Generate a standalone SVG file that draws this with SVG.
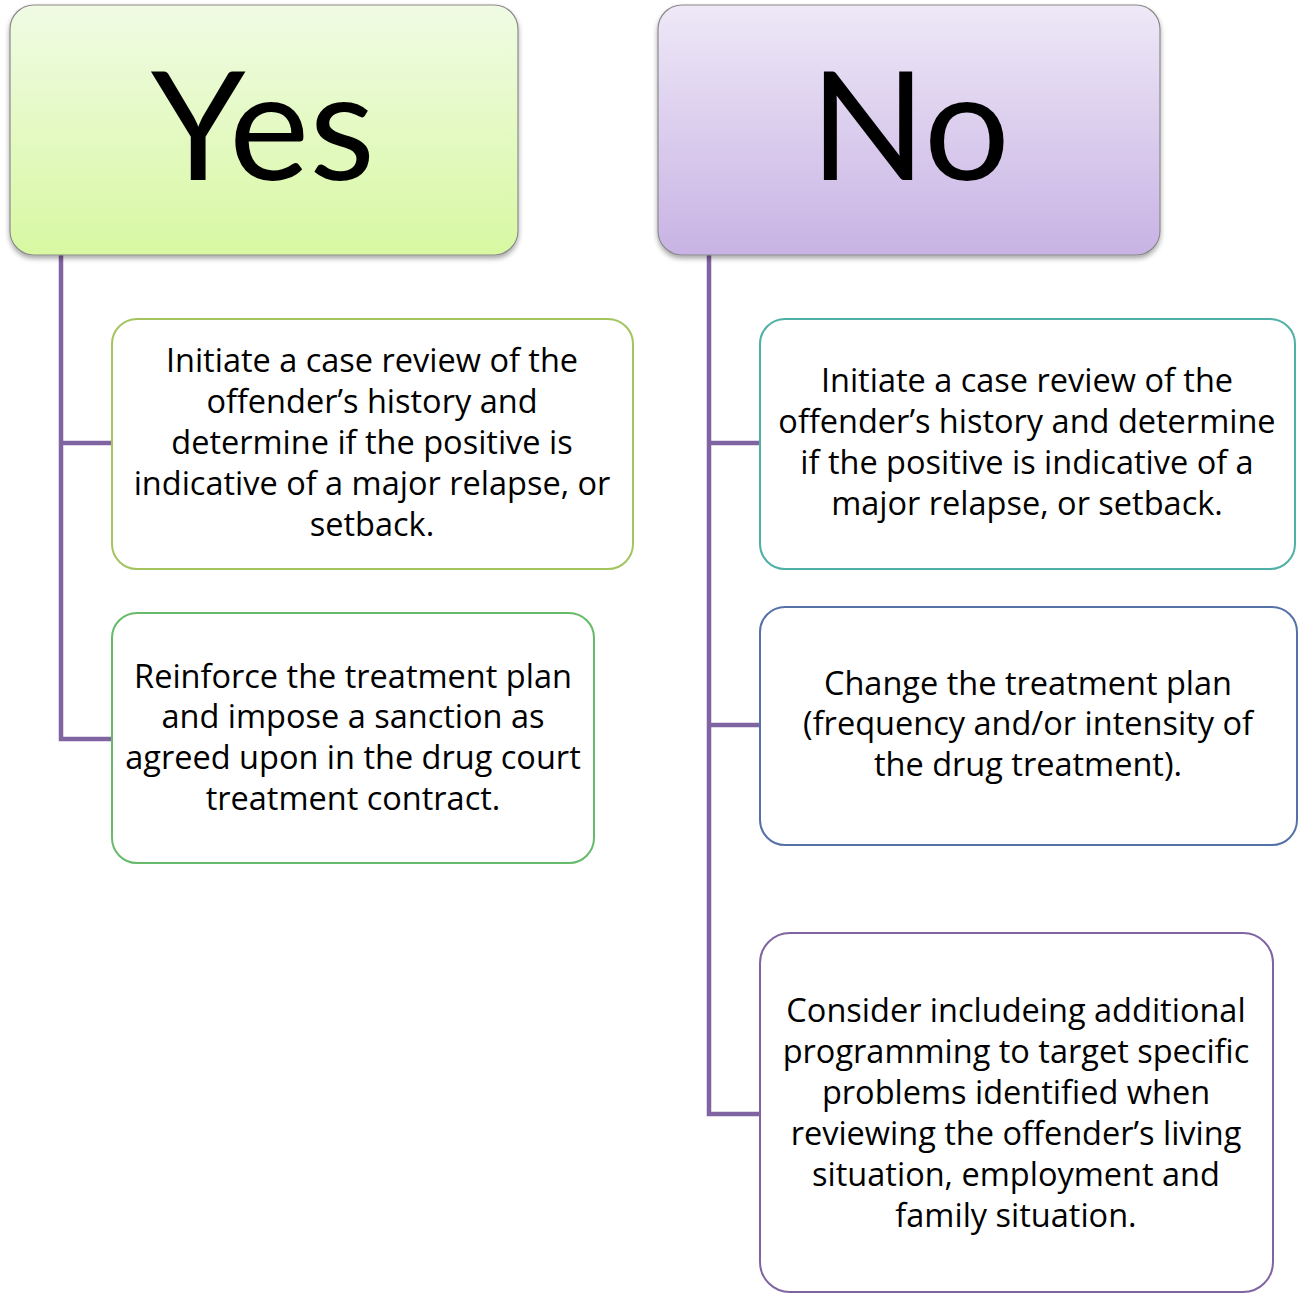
<svg xmlns="http://www.w3.org/2000/svg" width="1300" height="1293" viewBox="0 0 1300 1293">
<defs>
<linearGradient id="gYes" x1="0" y1="0" x2="0" y2="1"><stop offset="0" stop-color="#f0fbe4"/><stop offset="1" stop-color="#d8f8a2"/></linearGradient>
<linearGradient id="gNo" x1="0" y1="0" x2="0" y2="1"><stop offset="0" stop-color="#eee8f7"/><stop offset="1" stop-color="#c8b3e4"/></linearGradient>
<filter id="sh" x="-5%" y="-5%" width="110%" height="115%"><feDropShadow dx="0" dy="3" stdDeviation="2.5" flood-color="#000" flood-opacity="0.35"/></filter>
<style>
.hdr{stroke:#8a8a8a;stroke-width:1.2}
.big{font-family:Lato,"Liberation Sans",sans-serif;font-size:152px;fill:#000;text-anchor:middle}
.box{fill:#fff;stroke-width:2}
.t{font-family:"Open Sans","Liberation Sans",sans-serif;font-size:32.5px;fill:#000;text-anchor:middle}
.c{fill:none;stroke:#8064a2;stroke-width:4.5}
</style>
</defs>
<g id="connectors">
<path class="c" d="M61 255 V739 H112 M61 443 H112"/>
<path class="c" d="M709 255 V1114 H760 M709 443 H760 M709 725 H760"/>
</g>
<g id="yes"><rect class="hdr" x="10" y="5" width="508" height="250" rx="24" fill="url(#gYes)" filter="url(#sh)"/><text class="big" x="263" y="180">Yes</text></g>
<g id="no"><rect class="hdr" x="658" y="5" width="502" height="250" rx="24" fill="url(#gNo)" filter="url(#sh)"/><text class="big" x="910" y="180">No</text></g>
<g id="y1"><rect class="box" x="112" y="319" width="521" height="250" rx="25" stroke="#a3c45e"/>
<text class="t" x="372"><tspan x="372" y="372">Initiate a case review of the</tspan><tspan x="372" y="413">offender’s history and</tspan><tspan x="372" y="454">determine if the positive is</tspan><tspan x="372" y="495">indicative of a major relapse, or</tspan><tspan x="372" y="536">setback.</tspan></text></g>
<g id="y2"><rect class="box" x="112" y="613" width="482" height="250" rx="25" stroke="#66bb6a"/>
<text class="t"><tspan x="353" y="688">Reinforce the treatment plan</tspan><tspan x="353" y="728">and impose a sanction as</tspan><tspan x="353" y="769">agreed upon in the drug court</tspan><tspan x="353" y="810">treatment contract.</tspan></text></g>
<g id="n1"><rect class="box" x="760" y="319" width="535" height="250" rx="25" stroke="#4fb0a5"/>
<text class="t"><tspan x="1027" y="392">Initiate a case review of the</tspan><tspan x="1027" y="433">offender’s history and determine</tspan><tspan x="1027" y="474">if the positive is indicative of a</tspan><tspan x="1027" y="515">major relapse, or setback.</tspan></text></g>
<g id="n2"><rect class="box" x="760" y="607" width="537" height="238" rx="25" stroke="#5572a8"/>
<text class="t"><tspan x="1028" y="695">Change the treatment plan</tspan><tspan x="1028" y="735">(frequency and/or intensity of</tspan><tspan x="1028" y="776">the drug treatment).</tspan></text></g>
<g id="n3"><rect class="box" x="760" y="933" width="513" height="359" rx="30" stroke="#8064a2"/>
<text class="t"><tspan x="1016" y="1022">Consider includeing additional</tspan><tspan x="1016" y="1063">programming to target specific</tspan><tspan x="1016" y="1104">problems identified when</tspan><tspan x="1016" y="1145">reviewing the offender’s living</tspan><tspan x="1016" y="1186">situation, employment and</tspan><tspan x="1016" y="1227">family situation.</tspan></text></g>
</svg>
